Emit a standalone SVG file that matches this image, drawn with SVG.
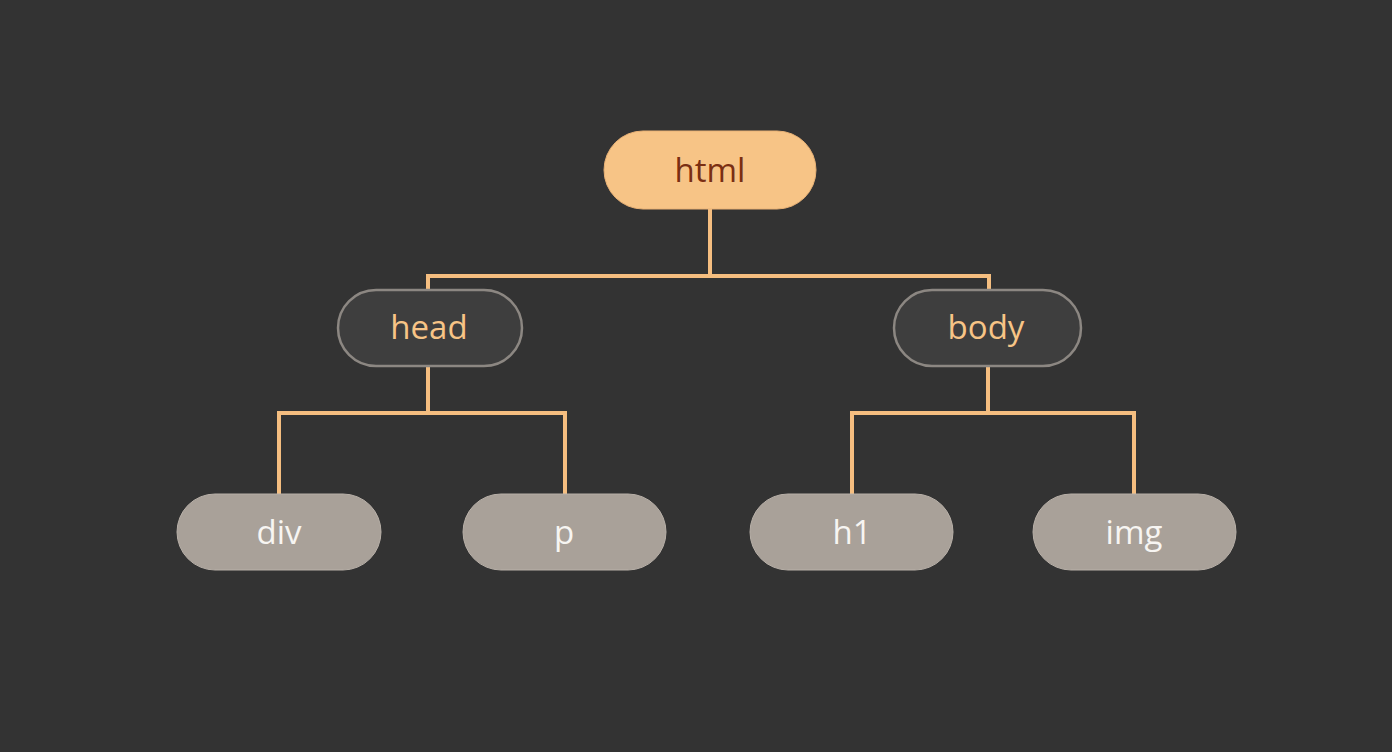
<svg xmlns="http://www.w3.org/2000/svg" width="1392" height="752" viewBox="0 0 1392 752">
<style>
.edge{fill:none;stroke:#F5BE80;stroke-width:4;stroke-linecap:square}
.lbl{font-family:"Open Sans","Noto Sans","Liberation Sans",sans-serif;font-size:33px;text-anchor:middle;dominant-baseline:central}
.root rect{fill:#F7C486;stroke:#E9B276;stroke-width:1}
.root text{fill:#7A2E12}
.mid rect{fill:#3E3E3E;stroke:#8C8782;stroke-width:2.5}
.mid text{fill:#F7C486}
.leaf rect{fill:#A9A199;stroke:#B8B0A8;stroke-width:1}
.leaf text{fill:#F7F5F2}
</style>
<rect width="1392" height="752" fill="#333333"/>
<g id="connectors">
<path class="edge" d="M710 209 V276 M428 276 H989 M428 276 V289 M989 276 V289"/>
<path class="edge" d="M428 366 V413 M279 413 H565 M279 413 V494 M565 413 V494"/>
<path class="edge" d="M988 366 V413 M852 413 H1134 M852 413 V494 M1134 413 V494"/>
</g>
<g id="html" class="root"><rect x="604" y="131" width="212" height="78" rx="39"/><text class="lbl" x="710" y="169">html</text></g>
<g id="head" class="mid"><rect x="338" y="290" width="184" height="76" rx="38"/><text class="lbl" x="429" y="326">head</text></g>
<g id="body" class="mid"><rect x="894" y="290" width="187" height="76" rx="38"/><text class="lbl" x="986" y="326">body</text></g>
<g id="div" class="leaf"><rect x="177" y="494" width="204" height="76" rx="38"/><text class="lbl" x="279" y="531">div</text></g>
<g id="p" class="leaf"><rect x="463" y="494" width="203" height="76" rx="38"/><text class="lbl" x="564" y="531">p</text></g>
<g id="h1" class="leaf"><rect x="750" y="494" width="203" height="76" rx="38"/><text class="lbl" x="852" y="531">h1</text></g>
<g id="img" class="leaf"><rect x="1033" y="494" width="203" height="76" rx="38"/><text class="lbl" x="1134" y="531">img</text></g>
</svg>
